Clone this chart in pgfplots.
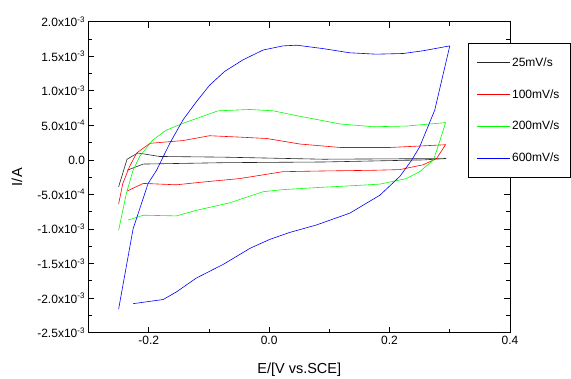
\documentclass[border=0pt]{standalone}
\usepackage{fontspec}
\setmainfont{Liberation Sans}
\usepackage{pgfplots}
\pgfplotsset{compat=1.18}
\begin{document}
\begin{tikzpicture}
\path[use as bounding box, clip] (-88.5pt,-46.3pt) rectangle (482.5pt,332.7pt);
\begin{axis}[
  at={(0pt,0pt)}, anchor=south west, scale only axis,
  width=421.5pt, height=311pt,
  xmin=-0.3, xmax=0.4, ymin=-2.5e-3, ymax=2.0e-3,
  axis line style={line width=0.9pt},
  tick align=inside, major tick length=6pt, minor tick length=4pt,
  every tick/.style={black, line width=0.8pt},
  xtick={-0.2,0,0.2,0.4}, xticklabels={-0.2,0.0,0.2,0.4},
  minor x tick num=1,
  ytick={-2.5e-3,-2.0e-3,-1.5e-3,-1.0e-3,-0.5e-3,0,0.5e-3,1.0e-3,1.5e-3,2.0e-3},
  yticklabels={-2.5x10\textsuperscript{-3},-2.0x10\textsuperscript{-3},-1.5x10\textsuperscript{-3},-1.0x10\textsuperscript{-3},-5.0x10\textsuperscript{-4},0.0,5.0x10\textsuperscript{-4},1.0x10\textsuperscript{-3},1.5x10\textsuperscript{-3},2.0x10\textsuperscript{-3}},
  minor y tick num=1,
  scaled x ticks=false, scaled y ticks=false,
  tick label style={font=\fontsize{12}{14}\selectfont},
  xlabel={E/[V vs.SCE]}, ylabel={I/A},
  every axis x label/.style={at={(axis description cs:0.5,0)}, yshift=-37.3pt, anchor=center, font=\fontsize{14.5}{17}\selectfont},
  every axis y label/.style={at={(axis description cs:0,0.5)}, xshift=-71.5pt, rotate=90, anchor=center, font=\fontsize{14.5}{17}\selectfont},
  legend cell align=left,
  legend image code/.code={\draw[#1, line width=0.6pt] (0pt,0pt) -- (33pt,0pt);},
  legend style={at={(rel axis cs:0.900,0.9315)}, anchor=north west,
    inner xsep=9pt, inner ysep=13pt,
    row sep=18.5pt, font=\fontsize{12}{14}\selectfont,
    nodes={inner sep=1.5pt}},
]
\addplot[black!85, line width=0.6pt] coordinates {
(-0.250,-0.39e-3) (-0.236,0.01e-3) (-0.218,0.10e-3) (-0.182,0.05e-3) (-0.076,0.04e-3)
(0.090,0.01e-3) (0.294,0.02e-3) (0.256,0.00e-3) (0.090,-0.03e-3) (-0.076,-0.04e-3)
(-0.209,-0.06e-3) (-0.236,-0.15e-3)};
\addlegendentry{25mV/s}
\addplot[red, line width=0.6pt] coordinates {
(-0.250,-0.64e-3) (-0.243,-0.34e-3) (-0.232,-0.10e-3) (-0.220,0.10e-3) (-0.198,0.24e-3)
(-0.143,0.28e-3) (-0.099,0.35e-3) (-0.049,0.33e-3) (-0.004,0.31e-3) (0.051,0.23e-3) (0.118,0.18e-3)
(0.201,0.18e-3) (0.293,0.22e-3) (0.278,0.02e-3) (0.256,-0.07e-3) (0.217,-0.14e-3)
(0.173,-0.15e-3) (0.090,-0.16e-3) (0.023,-0.17e-3) (-0.049,-0.27e-3) (-0.110,-0.32e-3)
(-0.154,-0.36e-3) (-0.209,-0.34e-3) (-0.236,-0.45e-3)};
\addlegendentry{100mV/s}
\addplot[green, line width=0.6pt] coordinates {
(-0.250,-1.02e-3) (-0.237,-0.48e-3) (-0.226,-0.15e-3) (-0.215,0.05e-3) (-0.193,0.29e-3)
(-0.171,0.43e-3) (-0.143,0.53e-3) (-0.085,0.71e-3) (-0.032,0.73e-3) (0.007,0.71e-3)
(0.046,0.64e-3) (0.118,0.52e-3) (0.173,0.48e-3) (0.228,0.49e-3) (0.293,0.54e-3)
(0.284,0.29e-3) (0.273,0.00e-3) (0.250,-0.17e-3) (0.228,-0.27e-3) (0.184,-0.35e-3)
(0.145,-0.37e-3) (0.079,-0.40e-3) (0.023,-0.43e-3) (-0.010,-0.46e-3) (-0.065,-0.62e-3)
(-0.121,-0.73e-3) (-0.154,-0.81e-3) (-0.209,-0.80e-3) (-0.234,-0.87e-3)};
\addlegendentry{200mV/s}
\addplot[blue, line width=0.6pt] coordinates {
(-0.250,-2.16e-3) (-0.226,-1.00e-3) (-0.201,-0.34e-3) (-0.187,-0.15e-3) (-0.165,0.24e-3)
(-0.143,0.58e-3) (-0.121,0.84e-3) (-0.099,1.08e-3) (-0.074,1.28e-3) (-0.043,1.45e-3)
(-0.010,1.59e-3) (0.023,1.65e-3) (0.046,1.66e-3)
(0.090,1.61e-3) (0.134,1.55e-3) (0.178,1.53e-3) (0.223,1.54e-3) (0.256,1.58e-3)
(0.300,1.65e-3) (0.275,0.72e-3) (0.250,0.19e-3) (0.237,0.00e-3) (0.217,-0.24e-3)
(0.184,-0.51e-3) (0.134,-0.77e-3) (0.079,-0.94e-3) (0.034,-1.05e-3) (0.001,-1.15e-3)
(-0.032,-1.28e-3) (-0.076,-1.51e-3) (-0.121,-1.71e-3) (-0.154,-1.91e-3) (-0.176,-2.02e-3)
(-0.226,-2.08e-3)};
\addlegendentry{600mV/s}
\end{axis}
\end{tikzpicture}
\end{document}
